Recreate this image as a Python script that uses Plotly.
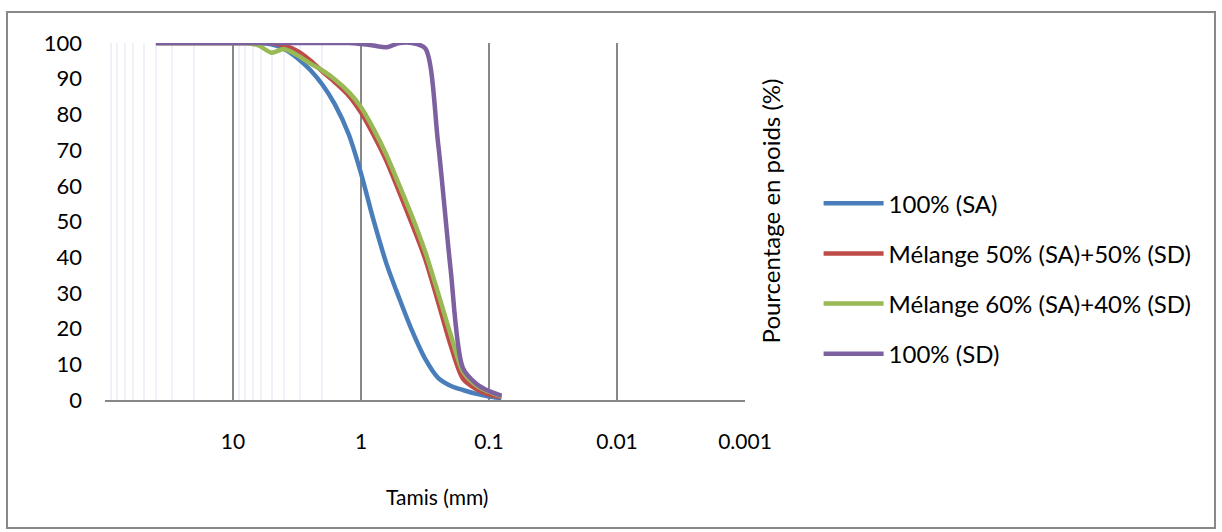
import plotly.graph_objects as go

# Sieve sizes (mm)
sieves = [40, 31.5, 25, 20, 16, 12.5, 10, 8, 6.3, 5, 4, 3.15, 2.5, 2, 1.6, 1.25,
          1, 0.8, 0.63, 0.5, 0.4, 0.315, 0.25, 0.2, 0.16, 0.125, 0.1, 0.08]

sa_100 = [100, 100, 100, 100, 100, 100, 100, 100, 100, 99.6, 98.3, 95.8, 92.5, 88.3, 82.8, 74.5,
          63.5, 50.5, 38, 28.3, 19.5, 11.5, 6.2, 4, 2.8, 1.7, 1, 0.5]
mix_50_50 = [100, 100, 100, 100, 100, 100, 100, 100, 100, 100, 99.3, 97.8, 95.2, 92, 89, 85.3,
             80.5, 74.3, 66.8, 58, 49.3, 39.5, 27.5, 15.5, 6, 3, 1.5, 0.8]
mix_60_40 = [100, 100, 100, 100, 100, 100, 100, 100, 99.3, 97.3, 98.3, 96.6, 94.3, 92.3, 89.8, 86.3,
             82, 76, 68.5, 60, 51.5, 41.5, 30, 18.5, 8, 4, 2.3, 1]
sd_100 = [100, 100, 100, 100, 100, 100, 100, 100, 100, 100, 100, 100, 100, 100, 100, 100,
          99.7, 99.3, 98.8, 100, 100, 98.5, 72, 37, 9, 4.5, 2.5, 1.2]

names = ["100% (SA)", "Mélange 50% (SA)+50% (SD)", "Mélange 60% (SA)+40% (SD)", "100% (SD)"]
series = [sa_100, mix_50_50, mix_60_40, sd_100]
colors = ["#4A7EBB", "#BE4B48", "#98B954", "#7D60A0"]

x_ticks = [10, 1, 0.1, 0.01, 0.001]
x_tick_text = ["10", "1", "0.1", "0.01", "0.001"]
y_ticks = list(range(0, 101, 10))

FONT = "Lato, Calibri, Carlito, sans-serif"

fig = go.Figure()
for i, (nm, ys, col) in enumerate(zip(names, series, colors)):
    fig.add_trace(go.Scatter(
        x=sieves, y=ys, name=nm, mode="lines",
        line=dict(color=col, width=4.5, shape="spline", smoothing=0.8),
        cliponaxis=False, legendgroup=f"g{i}",
    ))

minor_vals = [k * 10 ** e for e in range(0, 2) for k in range(2, 10)]

fig.update_layout(
    width=1222, height=532,
    margin=dict(l=105, r=477, t=43, b=132),
    paper_bgcolor="white", plot_bgcolor="white",
    font=dict(family=FONT, size=22, color="#000000"),
    showlegend=True,
    legend=dict(
        x=1.115, y=0.34, xanchor="left", yanchor="middle",
        font=dict(family=FONT, size=24, color="#000000"),
        tracegroupgap=16, itemwidth=60,
        bgcolor="rgba(0,0,0,0)",
    ),
    xaxis=dict(
        type="log", range=[2, -3], autorange=False,
        tickvals=x_ticks, ticktext=x_tick_text,
        showgrid=True, gridcolor="#878787", gridwidth=2,
        showline=True, linecolor="#878787", linewidth=2,
        ticks="", ticklabelstandoff=22, zeroline=False,
        minor=dict(tickvals=minor_vals, showgrid=True, gridcolor="#eef1f8", gridwidth=2, ticks=""),
        tickfont=dict(family=FONT, size=21),
    ),
    yaxis=dict(
        range=[0, 100], autorange=False,
        tickvals=y_ticks, showgrid=False, zeroline=False,
        showline=False, ticks="", ticklabelstandoff=22,
        tickfont=dict(family=FONT, size=22),
    ),
    annotations=[
        dict(text="Tamis (mm)", xref="paper", yref="paper", x=0.519, y=-0.27,
             xanchor="center", yanchor="middle", showarrow=False,
             font=dict(family=FONT, size=21)),
        dict(text="Pourcentage en poids (%)", xref="paper", yref="paper", x=1.04, y=0.53,
             xanchor="center", yanchor="middle", textangle=-90, showarrow=False,
             font=dict(family=FONT, size=24)),
    ],
    shapes=[
        dict(type="rect", xref="paper", yref="paper",
             x0=-98 / 640, x1=1110 / 640, y0=-128 / 357, y1=388 / 357,
             line=dict(color="#888888", width=2), fillcolor="rgba(0,0,0,0)", layer="below"),
    ],
)

fig.write_html("out.html")
